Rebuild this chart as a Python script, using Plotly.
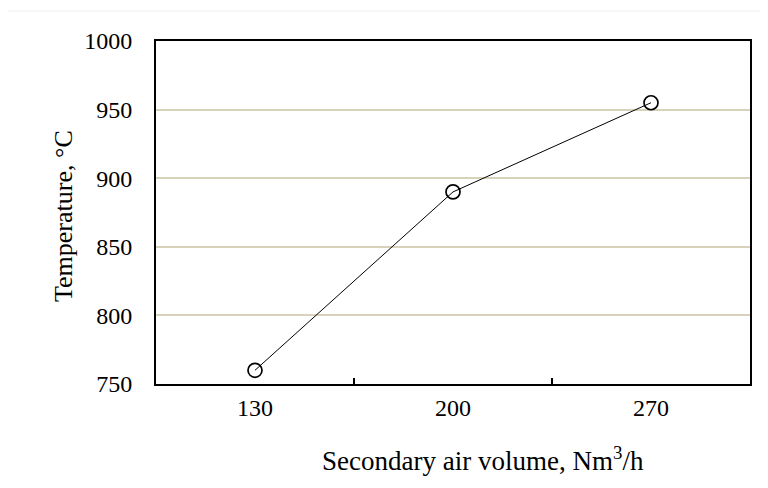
import plotly.graph_objects as go

categories = ["130", "200", "270"]
temperature = [760, 890, 955]
y_ticks = [750, 800, 850, 900, 950, 1000]

x_title = "Secondary air volume, Nm<sup>3</sup>/h"
y_title = "Temperature, °C"

# page has an 8px body margin, so the figure is 8px smaller than the window
W, H = 760, 480
L, R, T, B = 148, 18, 33, 104
pw, ph = W - L - R, H - T - B
OFF = 7  # page offset of the figure


def px_x(x):
    return (x - OFF - L) / pw


def px_y(y):
    return (H - B - (y - OFF)) / ph


fig = go.Figure()
fig.add_trace(go.Scatter(
    x=categories, y=temperature, mode="lines+markers",
    line=dict(color="black", width=1),
    marker=dict(symbol="circle-open", size=14, color="black", line=dict(width=1.7)),
    showlegend=False, cliponaxis=False,
))

fig.update_layout(
    width=W, height=H,
    margin=dict(l=L, r=R, t=T, b=B, pad=0),
    paper_bgcolor="white", plot_bgcolor="white",
    font=dict(family="Liberation Serif, Times New Roman, serif", size=24, color="black"),
    xaxis=dict(
        type="category", range=[-0.5, 2.5],
        showline=True, linecolor="black", linewidth=2, mirror=True,
        ticks="inside", tickson="boundaries", ticklen=6, tickwidth=2, tickcolor="black",
        showgrid=False, zeroline=False,
        tickfont=dict(size=24), ticklabelstandoff=1,
    ),
    yaxis=dict(
        range=[750, 1000], tickvals=y_ticks,
        showline=True, linecolor="black", linewidth=2, mirror=True,
        ticks="", showgrid=True, gridcolor="#D8D2BA", gridwidth=2,
        zeroline=False, tickfont=dict(size=24), ticklabelstandoff=17,
    ),
    annotations=[
        dict(text=x_title, xref="paper", yref="paper", x=px_x(482), y=px_y(458),
             xanchor="center", yanchor="middle", showarrow=False, font=dict(size=27)),
        dict(text=y_title, xref="paper", yref="paper", x=px_x(62), y=px_y(215),
             xanchor="center", yanchor="middle", showarrow=False, textangle=-90,
             font=dict(size=26)),
    ],
)

# faint outer border of the chart
fig.add_shape(type="rect", xref="paper", yref="paper",
              x0=px_x(6), x1=px_x(771), y0=px_y(491), y1=px_y(10),
              line=dict(color="#EEEEEE", width=1), fillcolor="rgba(0,0,0,0)", layer="below")

fig.write_html("out.html")
